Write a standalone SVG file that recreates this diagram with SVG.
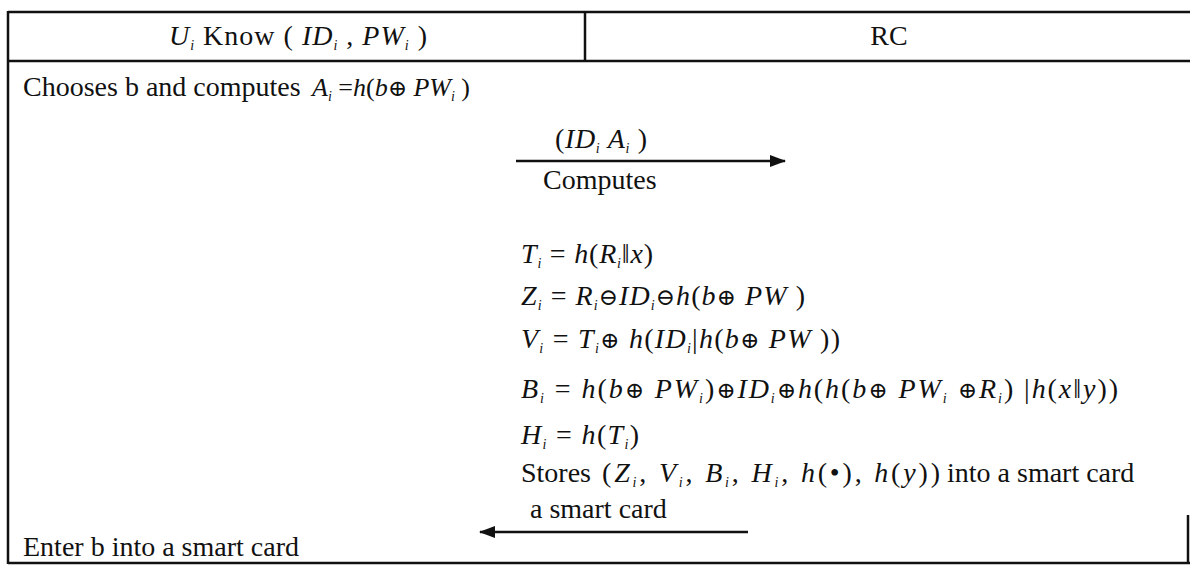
<svg xmlns="http://www.w3.org/2000/svg" width="1190" height="565" viewBox="0 0 1190 565">
  <style>
    .t { font-family: "Liberation Serif", "DejaVu Serif", serif; font-size: 28px; fill: #111; }
    .f { font-size: 26px; }
    .m { font-style: italic; }
    .s { font-size: 14px; font-style: italic; }
    .op { font-family: "DejaVu Serif", serif; font-size: 23px; font-style: normal; }
    .frame { stroke: #111; stroke-width: 2.5; fill: none; }
    .msg { stroke: #111; stroke-width: 2.6; fill: none; }
  </style>
  <defs>
    <marker id="head" markerUnits="userSpaceOnUse" markerWidth="16" markerHeight="12" refX="15" refY="6" orient="auto">
      <path d="M0,0 L16,6 L0,12 Z" fill="#111"/>
    </marker>
  </defs>
  <rect width="1190" height="565" fill="#fff"/>

  <!-- table frame -->
  <g id="table">
    <line class="frame" x1="8" y1="12" x2="1190" y2="12" stroke-width="3"/>
    <line class="frame" x1="8" y1="61" x2="1190" y2="61" stroke-width="3"/>
    <line class="frame" x1="8" y1="11" x2="8" y2="564" stroke-width="3"/>
    <line class="frame" x1="585" y1="12" x2="585" y2="61"/>
    <line class="frame" x1="8" y1="563" x2="1190" y2="563" stroke-width="1.5"/>
    <line class="frame" x1="1188" y1="515" x2="1188" y2="563" stroke-width="1.5"/>
  </g>

  <!-- column headings -->
  <g id="header-user">
    <text class="t" x="298" y="45" text-anchor="middle" textLength="258" lengthAdjust="spacing"><tspan class="m">U</tspan><tspan class="s" dy="5">i</tspan><tspan dy="-5"> Know ( </tspan><tspan class="m">ID</tspan><tspan class="s" dy="5">i</tspan><tspan dy="-5"> , </tspan><tspan class="m">PW</tspan><tspan class="s" dy="5">i</tspan><tspan dy="-5"> )</tspan></text>
  </g>
  <g id="header-rc">
    <text class="t" x="889" y="45" text-anchor="middle">RC</text>
  </g>

  <!-- user side -->
  <g id="user-steps">
    <text class="t" x="23" y="96">Chooses b and computes</text>
    <text class="t f" x="312" y="96"><tspan class="m">A</tspan><tspan class="s" dy="5">i</tspan><tspan dy="-5"> =</tspan><tspan class="m">h</tspan>(<tspan class="m">b</tspan><tspan class="op">⊕</tspan> <tspan class="m">PW</tspan><tspan class="s" dy="5">i</tspan><tspan dy="-5"> )</tspan></text>
    <text class="t" x="23" y="556">Enter b into a smart card</text>
  </g>

  <!-- registration centre side -->
  <g id="rc-steps">
    <text class="t" x="543" y="189">Computes</text>
    <text class="t" x="521" y="263" textLength="132" lengthAdjust="spacing"><tspan class="m">T</tspan><tspan class="s" dy="5">i</tspan><tspan dy="-5"> = </tspan><tspan class="m">h</tspan>(<tspan class="m">R</tspan><tspan class="s" dy="5">i</tspan><tspan dy="-5">‖</tspan><tspan class="m">x</tspan>)</text>
    <text class="t" x="521" y="305" textLength="284" lengthAdjust="spacing"><tspan class="m">Z</tspan><tspan class="s" dy="5">i</tspan><tspan dy="-5"> = </tspan><tspan class="m">R</tspan><tspan class="s" dy="5">i</tspan><tspan dy="-5" class="op">⊖</tspan><tspan class="m">ID</tspan><tspan class="s" dy="5">i</tspan><tspan dy="-5" class="op">⊖</tspan><tspan class="m">h</tspan>(<tspan class="m">b</tspan><tspan class="op">⊕</tspan> <tspan class="m">PW</tspan> )</text>
    <text class="t" x="521" y="348" textLength="319" lengthAdjust="spacing"><tspan class="m">V</tspan><tspan class="s" dy="5">i</tspan><tspan dy="-5"> = </tspan><tspan class="m">T</tspan><tspan class="s" dy="5">i</tspan><tspan dy="-5" class="op">⊕</tspan> <tspan class="m">h</tspan>(<tspan class="m">ID</tspan><tspan class="s" dy="5">i</tspan><tspan dy="-5">|</tspan><tspan class="m">h</tspan>(<tspan class="m">b</tspan><tspan class="op">⊕</tspan> <tspan class="m">PW</tspan> ))</text>
    <text class="t" x="521" y="398" textLength="597" lengthAdjust="spacing"><tspan class="m">B</tspan><tspan class="s" dy="5">i</tspan><tspan dy="-5"> = </tspan><tspan class="m">h</tspan>(<tspan class="m">b</tspan><tspan class="op">⊕</tspan> <tspan class="m">PW</tspan><tspan class="s" dy="5">i</tspan><tspan dy="-5">)</tspan><tspan class="op">⊕</tspan><tspan class="m">ID</tspan><tspan class="s" dy="5">i</tspan><tspan dy="-5" class="op">⊕</tspan><tspan class="m">h</tspan>(<tspan class="m">h</tspan>(<tspan class="m">b</tspan><tspan class="op">⊕</tspan> <tspan class="m">PW</tspan><tspan class="s" dy="5">i</tspan><tspan dy="-5" class="op"> ⊕</tspan><tspan class="m">R</tspan><tspan class="s" dy="5">i</tspan><tspan dy="-5">) |</tspan><tspan class="m">h</tspan>(<tspan class="m">x</tspan>‖<tspan class="m">y</tspan>))</text>
    <text class="t" x="521" y="444" textLength="118" lengthAdjust="spacing"><tspan class="m">H</tspan><tspan class="s" dy="5">i</tspan><tspan dy="-5"> = </tspan><tspan class="m">h</tspan>(<tspan class="m">T</tspan><tspan class="s" dy="5">i</tspan><tspan dy="-5">)</tspan></text>
    <text class="t" x="521" y="482">Stores</text>
    <text class="t" x="602" y="482" textLength="338" lengthAdjust="spacing">(<tspan class="m">Z</tspan><tspan class="s" dy="5">i</tspan><tspan dy="-5">, </tspan><tspan class="m">V</tspan><tspan class="s" dy="5">i</tspan><tspan dy="-5">, </tspan><tspan class="m">B</tspan><tspan class="s" dy="5">i</tspan><tspan dy="-5">, </tspan><tspan class="m">H</tspan><tspan class="s" dy="5">i</tspan><tspan dy="-5">, </tspan><tspan class="m">h</tspan>(•), <tspan class="m">h</tspan>(<tspan class="m">y</tspan>))</text>
    <text class="t" x="947" y="482">into a smart card</text>
  </g>

  <!-- messages between the two parties -->
  <g id="messages">
    <line class="msg" x1="516" y1="161" x2="785" y2="161" marker-end="url(#head)"/>
    <text class="t" x="555" y="148" textLength="92" lengthAdjust="spacing">(<tspan class="m">ID</tspan><tspan class="s" dy="5">i</tspan><tspan dy="-5"> </tspan><tspan class="m">A</tspan><tspan class="s" dy="5">i</tspan><tspan dy="-5"> )</tspan></text>
    <line class="msg" x1="748" y1="532" x2="480" y2="532" marker-end="url(#head)"/>
    <text class="t" x="530" y="518">a smart card</text>
  </g>
</svg>
